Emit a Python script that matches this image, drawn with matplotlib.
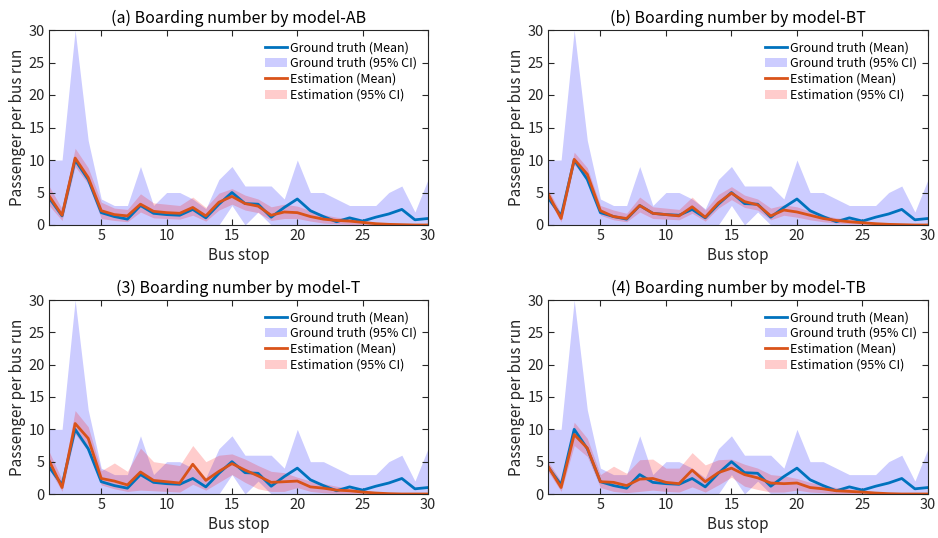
import numpy as np
import matplotlib
matplotlib.use("Agg")
import matplotlib.pyplot as plt
from matplotlib.lines import Line2D
from matplotlib.patches import Patch

plt.rcParams['font.family'] = ['Noto Sans CJK JP', 'DejaVu Sans']

stops = list(range(1, 31))

# Ground truth (shared by all four panels)
gt_mean = [4.2, 1.4, 10.0, 7.0, 1.9, 1.3, 0.9, 3.0, 1.8, 1.6,
           1.5, 2.4, 1.1, 3.2, 5.0, 3.3, 3.2, 1.2, 2.7, 4.0,
           2.2, 1.3, 0.5, 1.1, 0.6, 1.2, 1.7, 2.4, 0.8, 1.0]
gt_low = [0, 0, 0, 0, 0, 0, 0, 0, 0, 0,
          0, 0, 0, 0, 3, 0, 2, 0, 0, 0,
          0, 0, 0, 0, 0, 0, 0, 0, 0, 0]
gt_high = [10, 10, 30, 13, 4, 3, 3, 9, 3, 5,
           5, 4, 2.5, 7, 9, 6, 6, 6, 4, 10,
           5, 5, 4, 3, 3, 3, 5, 6, 2, 7]

# Model-AB estimation
ab_mean = [4.5, 1.5, 10.3, 7.3, 2.2, 1.6, 1.4, 3.2, 2.1, 1.9,
           1.8, 2.7, 1.4, 3.5, 4.4, 3.3, 2.9, 1.5, 2.0, 1.9,
           1.3, 0.9, 0.7, 0.6, 0.4, 0.2, 0.1, 0.05, 0.0, 0.0]
ab_low = [3.0, 0.7, 9.0, 6.3, 1.0, 0.7, 0.5, 2.0, 1.1, 1.0,
          0.9, 1.5, 0.6, 2.3, 3.2, 2.3, 1.9, 0.7, 1.0, 1.0,
          0.6, 0.3, 0.2, 0.1, 0.0, 0.0, 0.0, 0.0, 0.0, 0.0]
ab_high = [6.0, 2.5, 11.8, 8.8, 3.5, 2.6, 2.4, 4.8, 3.4, 3.2,
           3.0, 4.3, 2.7, 4.9, 5.6, 4.6, 4.0, 2.8, 3.2, 2.9,
           2.2, 1.6, 1.2, 1.0, 0.7, 0.4, 0.2, 0.1, 0.05, 0.05]

# Model-BT estimation
bt_mean = [4.8, 1.0, 10.1, 7.8, 2.2, 1.3, 1.0, 3.0, 1.8, 1.6,
           1.4, 2.8, 1.2, 3.4, 4.9, 3.6, 3.1, 1.4, 2.3, 2.0,
           1.5, 1.0, 0.7, 0.5, 0.35, 0.2, 0.1, 0.05, 0.0, 0.0]
bt_low = [4.0, 0.5, 9.3, 7.0, 1.5, 0.8, 0.5, 2.0, 1.0, 0.9,
          0.8, 1.8, 0.6, 2.6, 3.9, 2.7, 2.3, 0.8, 1.5, 1.2,
          0.8, 0.5, 0.3, 0.2, 0.1, 0.0, 0.0, 0.0, 0.0, 0.0]
bt_high = [5.5, 1.8, 11.2, 8.8, 3.0, 2.3, 1.8, 4.3, 2.8, 2.6,
           2.4, 4.3, 2.3, 4.7, 5.9, 4.6, 4.0, 2.6, 3.1, 2.8,
           2.1, 1.5, 1.1, 0.9, 0.6, 0.4, 0.2, 0.1, 0.1, 0.1]

# Model-T estimation
t_mean = [5.2, 1.0, 10.9, 8.6, 2.4, 2.0, 1.4, 3.4, 2.1, 1.9,
          1.7, 4.6, 2.1, 3.5, 4.7, 3.7, 2.8, 1.8, 1.9, 2.0,
          1.1, 0.9, 0.6, 0.5, 0.3, 0.15, 0.05, 0.0, 0.0, 0.0]
t_low = [3.9, 0.4, 9.3, 6.6, 1.4, 0.8, 0.4, 0.6, 0.5, 0.4,
         0.3, 1.5, 0.6, 1.8, 3.0, 1.8, 0.8, 0.4, 0.4, 1.0,
         0.4, 0.2, 0.1, 0.0, 0.0, 0.0, 0.0, 0.0, 0.0, 0.0]
t_high = [6.6, 2.2, 12.9, 10.4, 3.6, 4.8, 3.5, 7.1, 5.0, 4.7,
          4.4, 7.5, 5.0, 6.0, 6.2, 5.4, 4.4, 3.5, 3.3, 2.6,
          2.0, 1.6, 1.2, 0.9, 0.6, 0.3, 0.15, 0.05, 0.05, 0.05]

# Model-TB estimation
tb_mean = [4.3, 1.0, 9.2, 7.1, 1.9, 1.8, 1.3, 2.3, 2.4, 1.8,
           1.6, 3.7, 1.9, 3.3, 4.0, 3.0, 2.5, 1.7, 1.6, 1.7,
           1.0, 0.8, 0.5, 0.4, 0.3, 0.15, 0.05, 0.0, 0.0, 0.0]
tb_low = [3.5, 0.4, 7.5, 5.8, 1.0, 0.4, 0.2, 0.4, 0.6, 0.4,
          0.3, 1.1, 0.3, 1.4, 2.6, 1.2, 0.7, 0.3, 0.3, 0.6,
          0.3, 0.2, 0.0, 0.0, 0.0, 0.0, 0.0, 0.0, 0.0, 0.0]
tb_high = [5.0, 2.0, 11.1, 8.6, 3.0, 4.3, 3.2, 5.3, 5.4, 4.0,
           4.0, 6.4, 4.5, 5.3, 5.4, 4.6, 4.0, 3.0, 2.8, 2.4,
           1.8, 1.4, 1.0, 0.8, 0.5, 0.3, 0.1, 0.05, 0.05, 0.05]

titles = ["(a) Boarding number by model-AB",
          "(b) Boarding number by model-BT",
          "(3) Boarding number by model-T",
          "(4) Boarding number by model-TB"]
estimates = [(ab_mean, ab_low, ab_high),
             (bt_mean, bt_low, bt_high),
             (t_mean, t_low, t_high),
             (tb_mean, tb_low, tb_high)]

blue = '#0072BD'
orange = '#D95319'
dark = '#262626'

fig = plt.figure(figsize=(9.38, 5.38), dpi=100)
W, H = 938, 538
boxes = [(49, 30, 428, 225), (548, 30, 928, 225),
         (49, 300, 428, 494), (548, 300, 928, 494)]

for (x0, y0, x1, y1), title, (em, el, eh) in zip(boxes, titles, estimates):
    ax = fig.add_axes([x0 / W, 1 - y1 / H, (x1 - x0) / W, (y1 - y0) / H])
    ax.fill_between(stops, gt_low, gt_high, color=(0, 0, 1), alpha=0.2, lw=0)
    ax.fill_between(stops, el, eh, color=(1, 0, 0), alpha=0.2, lw=0)
    ax.plot(stops, gt_mean, color=blue, lw=2)
    ax.plot(stops, em, color=orange, lw=2)
    ax.set_xlim(1, 30)
    ax.set_ylim(0, 30)
    ax.set_xticks([5, 10, 15, 20, 25, 30])
    ax.set_yticks([0, 5, 10, 15, 20, 25, 30])
    ax.tick_params(direction='in', top=True, right=True, length=4,
                   width=0.8, colors=dark, labelsize=10.5, pad=3)
    for s in ax.spines.values():
        s.set_color(dark)
        s.set_linewidth(0.8)
    ax.set_title(title, fontsize=11.5, color='black', pad=5)
    ax.set_xlabel("Bus stop", fontsize=11, color=dark, labelpad=3)
    ax.set_ylabel("Passenger per bus run", fontsize=11, color=dark, labelpad=2)
    handles = [Line2D([], [], color=blue, lw=2),
               Patch(facecolor=(0, 0, 1), alpha=0.2, lw=0),
               Line2D([], [], color=orange, lw=2),
               Patch(facecolor=(1, 0, 0), alpha=0.2, lw=0)]
    labels = ["Ground truth (Mean)", "Ground truth (95% CI)",
              "Estimation (Mean)", "Estimation (95% CI)"]
    ax.legend(handles, labels, loc='upper right', frameon=False,
              fontsize=9, handlelength=1.8, handletextpad=0.2,
              labelspacing=0.22, borderaxespad=0.5)

fig.savefig("out.png", dpi=100)
